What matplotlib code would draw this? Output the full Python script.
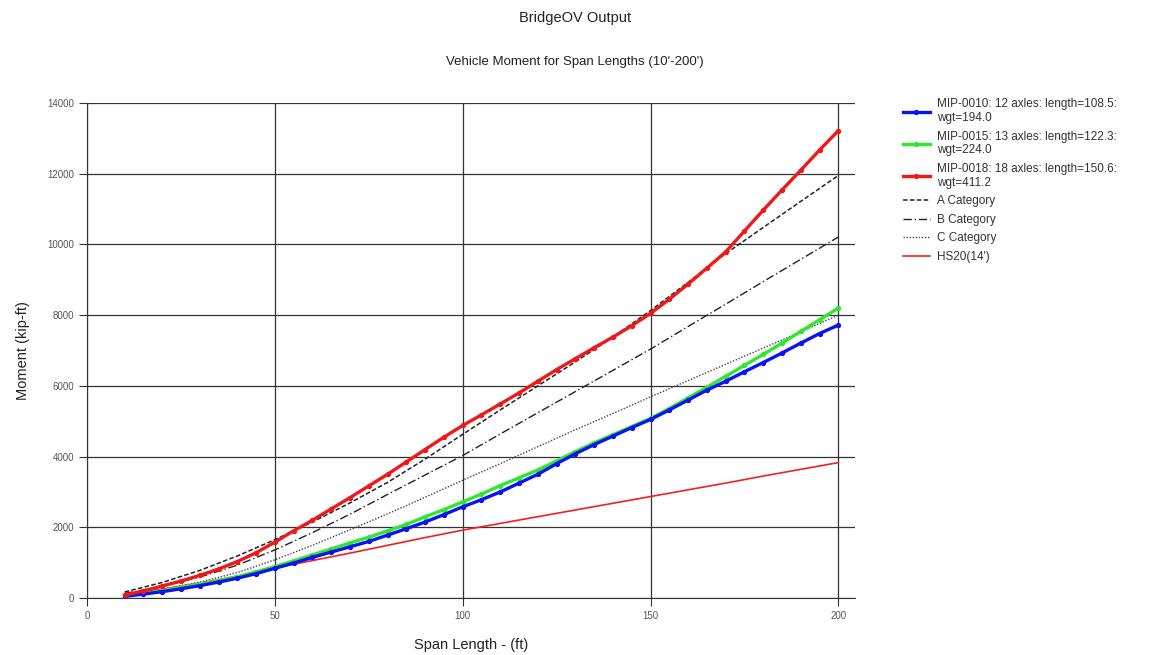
import matplotlib
matplotlib.use("Agg")
import matplotlib.pyplot as plt

plt.rcParams['font.family'] = ['Liberation Sans', 'DejaVu Sans']

# Span lengths (ft) for the vehicle runs, every 5 ft
span = list(range(10, 205, 5))

mip_0010 = [50, 110, 180, 260, 350, 450, 560, 690, 840, 990,
            1150, 1300, 1450, 1600, 1780, 1960, 2150, 2360, 2580, 2780,
            3000, 3250, 3500, 3800, 4080, 4340, 4580, 4820, 5050, 5320,
            5600, 5880, 6130, 6400, 6660, 6930, 7210, 7480, 7720]

mip_0015 = [60, 130, 210, 300, 390, 490, 600, 740, 890, 1050,
            1220, 1390, 1560, 1720, 1900, 2080, 2300, 2500, 2720, 2940,
            3180, 3400, 3620, 3880, 4140, 4390, 4620, 4850, 5080, 5360,
            5660, 5960, 6270, 6580, 6890, 7210, 7540, 7870, 8200]

mip_0018 = [80, 200, 340, 480, 640, 820, 1030, 1280, 1580, 1900,
            2200, 2520, 2840, 3170, 3500, 3850, 4200, 4550, 4880, 5180,
            5490, 5800, 6130, 6460, 6770, 7080, 7380, 7700, 8050, 8450,
            8880, 9330, 9790, 10380, 10970, 11540, 12100, 12670, 13220]

# Category envelopes and HS20 truck, every 10 ft
span_cat = list(range(10, 210, 10))
cat_a = [170, 440, 780, 1190, 1650, 2150, 2690, 3270, 3930, 4630,
         5320, 6000, 6680, 7380, 8130, 8930, 9740, 10480, 11220, 11950]
cat_b = [130, 330, 590, 930, 1360, 1850, 2370, 2930, 3480, 4030,
         4640, 5240, 5840, 6440, 7040, 7680, 8310, 8950, 9580, 10210]
cat_c = [100, 250, 450, 720, 1080, 1490, 1930, 2380, 2850, 3330,
         3800, 4280, 4760, 5220, 5690, 6150, 6610, 7070, 7530, 8000]
hs20 = [100, 250, 420, 620, 850, 1060, 1270, 1490, 1710, 1920,
        2110, 2300, 2490, 2680, 2870, 3060, 3250, 3450, 3640, 3830]

labels = [
    "MIP-0010: 12 axles: length=108.5:\nwgt=194.0",
    "MIP-0015: 13 axles: length=122.3:\nwgt=224.0",
    "MIP-0018: 18 axles: length=150.6:\nwgt=411.2",
    "A Category",
    "B Category",
    "C Category",
    "HS20(14')",
]

fig = plt.figure(figsize=(11.5, 6.55), dpi=100)
ax = fig.add_axes([0.0757, 0.087, 0.668, 0.7557])

ax.plot(span, mip_0010, color='#0a14f0', lw=2.4, marker='o', ms=2.8, label=labels[0], zorder=5)
ax.plot(span, mip_0015, color='#2ee82e', lw=2.4, marker='o', ms=2.8, label=labels[1], zorder=4)
ax.plot(span, mip_0018, color='#f01818', lw=2.4, marker='o', ms=2.8, label=labels[2], zorder=6)
ax.plot(span_cat, cat_a, color='#222222', lw=1.1, ls=(0, (3, 1.5)), label=labels[3], zorder=3)
ax.plot(span_cat, cat_b, color='#222222', lw=1.0, ls=(0, (6, 2, 1, 2)), label=labels[4], zorder=3)
ax.plot(span_cat, cat_c, color='#444444', lw=1.0, ls=(0, (1, 1.2)), label=labels[5], zorder=3)
ax.plot(span_cat, hs20, color='#ee2222', lw=1.2, label=labels[6], zorder=3)

ax.set_xlim(0, 204.5)
ax.set_ylim(0, 14000)
ax.set_xticks([0, 50, 100, 150, 200])
ax.set_yticks(range(0, 14001, 2000))
ax.grid(True, color='#333333', lw=0.9)
ax.set_axisbelow(True)
for side in ['top', 'right']:
    ax.spines[side].set_visible(False)
for side in ['left', 'bottom']:
    ax.spines[side].set_color('#333333')
ax.tick_params(axis='both', labelsize=7, colors='#333333', labelcolor='#555555',
               length=6, direction='out')

ax.set_xlabel("Span Length - (ft)", fontsize=10.5, labelpad=12, color='#222222')
ax.set_ylabel("Moment (kip-ft)", fontsize=10.5, labelpad=12, color='#222222')

fig.text(0.5, 0.972, "BridgeOV Output", ha='center', va='center', fontsize=10.5, color='#222222')
fig.text(0.5, 0.905, "Vehicle Moment for Span Lengths (10'-200')", ha='center', va='center',
         fontsize=9.5, color='#222222')

leg = fig.legend(loc='upper left', bbox_to_anchor=(0.781, 0.857), frameon=False, fontsize=8.5,
                 handlelength=2.3, handletextpad=0.55, labelspacing=0.55, borderaxespad=0)
for t in leg.get_texts():
    t.set_color('#333333')

fig.savefig("out.png", dpi=100, facecolor='white')
